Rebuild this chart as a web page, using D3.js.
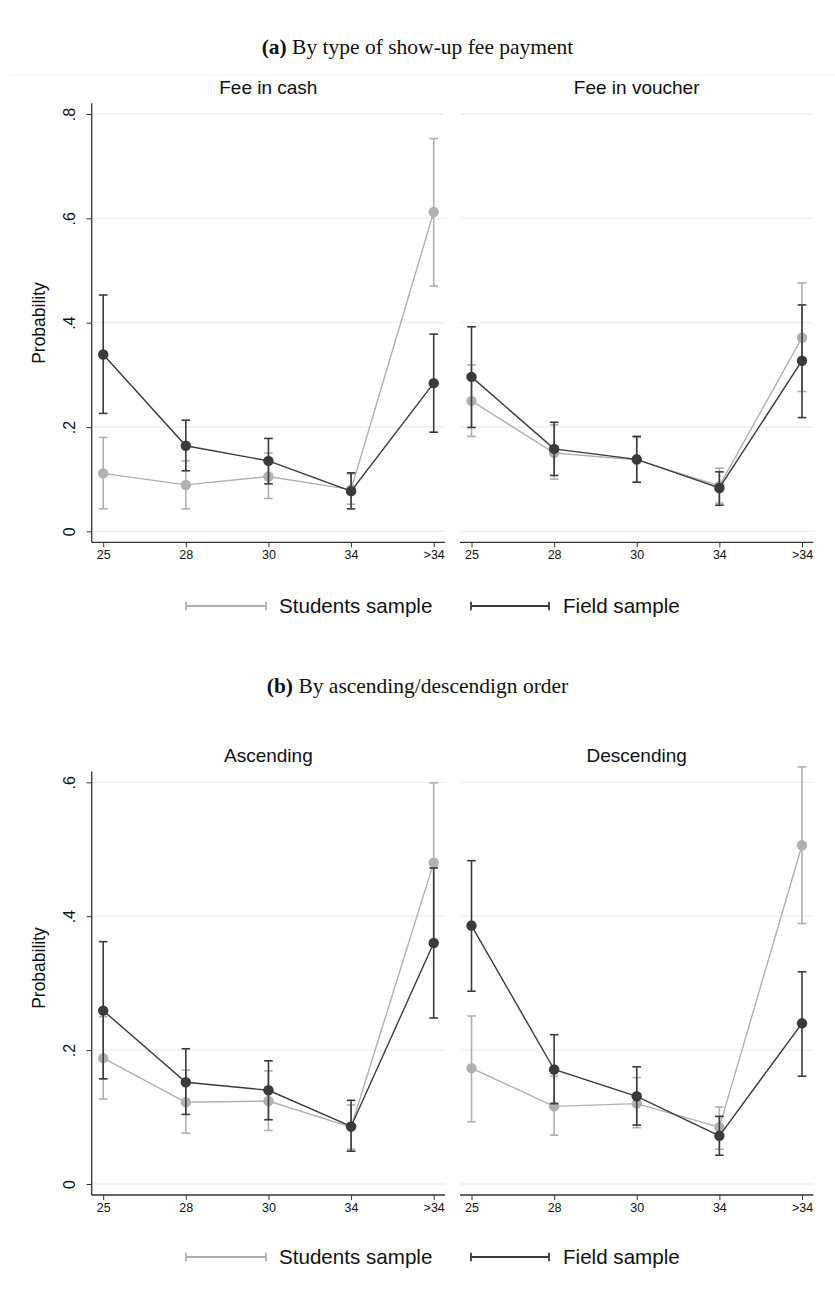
<!DOCTYPE html>
<html><head><meta charset="utf-8">
<script src="https://cdn.jsdelivr.net/npm/d3@7"></script>
<style>body{margin:0;background:#fff}svg{display:block}</style>
</head><body>
<script>
// ---------------- DATA ----------------
const categories = ["25","28","30","34",">34"];
const yTicksA = [0,0.2,0.4,0.6,0.8];
const yTicksB = [0,0.2,0.4,0.6];
const tickLabel = v => v===0 ? "0" : String(v).replace(/^0/,"");
const seriesNames = ["Students sample","Field sample"];

// Panel (a) Fee in cash
const cashStudents    = [0.111,0.089,0.105,0.080,0.612];
const cashStudentsLo  = [0.043,0.043,0.063,0.052,0.470];
const cashStudentsHi  = [0.180,0.135,0.150,0.110,0.753];
const cashField       = [0.339,0.164,0.135,0.077,0.284];
const cashFieldLo     = [0.226,0.116,0.091,0.043,0.190];
const cashFieldHi     = [0.453,0.213,0.178,0.112,0.378];
// Panel (a) Fee in voucher
const vouchStudents   = [0.250,0.150,0.137,0.087,0.371];
const vouchStudentsLo = [0.182,0.100,0.094,0.054,0.268];
const vouchStudentsHi = [0.319,0.204,0.180,0.121,0.476];
const vouchField      = [0.296,0.158,0.138,0.083,0.327];
const vouchFieldLo    = [0.199,0.107,0.094,0.050,0.218];
const vouchFieldHi    = [0.392,0.209,0.182,0.114,0.434];
// Panel (b) Ascending
const ascStudents     = [0.188,0.122,0.124,0.085,0.480];
const ascStudentsLo   = [0.127,0.076,0.080,0.052,0.362];
const ascStudentsHi   = [0.250,0.170,0.169,0.118,0.599];
const ascField        = [0.259,0.152,0.140,0.086,0.360];
const ascFieldLo      = [0.157,0.104,0.096,0.049,0.248];
const ascFieldHi      = [0.362,0.202,0.184,0.125,0.472];
// Panel (b) Descending
const descStudents    = [0.173,0.116,0.120,0.085,0.506];
const descStudentsLo  = [0.093,0.073,0.084,0.052,0.389];
const descStudentsHi  = [0.251,0.161,0.159,0.115,0.623];
const descField       = [0.386,0.171,0.131,0.072,0.240];
const descFieldLo     = [0.288,0.120,0.088,0.043,0.161];
const descFieldHi     = [0.483,0.223,0.175,0.101,0.317];

// ---------------- STYLE ----------------
const W = 835, H = 1302;
const LIGHT = "#b0b0b0", DARK = "#3a3a3a";
const GRID = "#e9f0f2", AXIS = "#333";
const SANS = "'Liberation Sans', Arial, sans-serif";
const SERIF = "'Liberation Serif', 'DejaVu Serif', serif";

const svg = d3.select("body").append("svg").attr("width",W).attr("height",H);

// faint separator line below title (a)
svg.append("line").attr("x1",10).attr("x2",835).attr("y1",75).attr("y2",75)
  .attr("stroke","#eef2f4").attr("stroke-width",1.2);

function title(y, bold, rest){
  const t = svg.append("text").attr("x",W/2).attr("y",y).attr("text-anchor","middle")
    .attr("font-family",SERIF).attr("font-size",21.5).attr("fill","#111");
  t.append("tspan").attr("font-weight","bold").text(bold);
  t.append("tspan").text(" " + rest);
}

function panel(cfg){
  const {x0,x1,y0px,yTopPx,ticks,yMax,showY,name,stud,studLo,studHi,fld,fldLo,fldHi} = cfg;
  const g = svg.append("g");
  const x = d3.scalePoint().domain(categories).range([x0+11.5, x1-11.3]);
  const y = d3.scaleLinear().domain([0,yMax]).range([y0px, yTopPx]);
  // gridlines
  g.selectAll(".grid").data(ticks).join("line")
    .attr("x1",x0+1).attr("x2",x1).attr("y1",d=>y(d)).attr("y2",d=>y(d))
    .attr("stroke",GRID).attr("stroke-width",1.3);
  // x axis
  const xAxisY = y0px + 11;
  const xa = g.append("g").attr("transform",`translate(0,${xAxisY})`)
    .call(d3.axisBottom(x).tickSize(5).tickPadding(3));
  xa.select(".domain").attr("d",`M${x0},0H${x1}`).attr("stroke",AXIS).attr("stroke-width",1.3);
  xa.selectAll(".tick line").attr("stroke",AXIS);
  xa.selectAll(".tick text").attr("font-family",SANS).attr("font-size",12.5).attr("fill","#111");
  // y axis
  if(showY){
    const ya = g.append("g").attr("transform",`translate(${x0},0)`)
      .call(d3.axisLeft(y).tickValues(ticks).tickFormat(tickLabel).tickSize(5).tickPadding(0));
    ya.select(".domain").attr("d",`M0,${xAxisY}V${yTopPx-10.7}`).attr("stroke",AXIS).attr("stroke-width",1.3);
    ya.selectAll(".tick line").attr("stroke",AXIS);
    ya.selectAll(".tick text").attr("font-family",SANS).attr("font-size",16).attr("fill","#111")
      .attr("text-anchor","middle").attr("x",0)
      .attr("transform","translate(-22,0) rotate(-90)").attr("y",0).attr("dy","0.35em");
  }
  // panel title
  g.append("text").attr("x",(x0+x1)/2).attr("y",yTopPx-20).attr("text-anchor","middle")
    .attr("font-family",SANS).attr("font-size",19).attr("fill","#111").text(name);

  function series(vals,lo,hi,color,lw){
    const d = categories.map((c,i)=>({c,v:vals[i],lo:lo[i],hi:hi[i]}));
    const cap = 4.3;
    const eb = g.append("g");
    eb.selectAll("line.v").data(d).join("line")
      .attr("x1",e=>x(e.c)).attr("x2",e=>x(e.c)).attr("y1",e=>y(e.lo)).attr("y2",e=>y(e.hi))
      .attr("stroke",color).attr("stroke-width",lw);
    eb.selectAll("line.t").data(d).join("line")
      .attr("x1",e=>x(e.c)-cap).attr("x2",e=>x(e.c)+cap).attr("y1",e=>y(e.hi)).attr("y2",e=>y(e.hi))
      .attr("stroke",color).attr("stroke-width",lw);
    eb.selectAll("line.b").data(d).join("line")
      .attr("x1",e=>x(e.c)-cap).attr("x2",e=>x(e.c)+cap).attr("y1",e=>y(e.lo)).attr("y2",e=>y(e.lo))
      .attr("stroke",color).attr("stroke-width",lw);
    g.append("path").datum(d)
      .attr("d",d3.line().x(e=>x(e.c)).y(e=>y(e.v)))
      .attr("fill","none").attr("stroke",color).attr("stroke-width",1.4);
    g.append("g").selectAll("circle").data(d).join("circle")
      .attr("cx",e=>x(e.c)).attr("cy",e=>y(e.v)).attr("r",5.2).attr("fill",color);
  }
  series(stud,studLo,studHi,LIGHT,1.6);
  series(fld,fldLo,fldHi,DARK,1.6);
}

function legend(y){
  const items = [{n:seriesNames[0],c:LIGHT,x1:186,x2:266,tx:279},
                 {n:seriesNames[1],c:DARK,x1:471,x2:549,tx:563}];
  items.forEach(it=>{
    const g = svg.append("g");
    g.append("line").attr("x1",it.x1).attr("x2",it.x2).attr("y1",y).attr("y2",y).attr("stroke",it.c).attr("stroke-width",1.8);
    [it.x1,it.x2].forEach(xx=>g.append("line").attr("x1",xx).attr("x2",xx).attr("y1",y-4.3).attr("y2",y+4.3).attr("stroke",it.c).attr("stroke-width",1.8));
    g.append("text").attr("x",it.tx).attr("y",y).attr("dy","0.36em").attr("font-family",SANS)
      .attr("font-size",20.6).attr("fill","#111").text(it.n);
  });
}

function yTitle(cy){
  svg.append("text").attr("transform",`translate(39,${cy}) rotate(-90)`).attr("text-anchor","middle")
    .attr("dy","0.35em").attr("font-family",SANS).attr("font-size",17.5).attr("fill","#111").text("Probability");
}

// ---- (a)
title(54,"(a)","By type of show-up fee payment");
panel({x0:91.7,x1:445,y0px:531.3,yTopPx:114,ticks:yTicksA,yMax:0.8,showY:true,name:"Fee in cash",
  stud:cashStudents,studLo:cashStudentsLo,studHi:cashStudentsHi,fld:cashField,fldLo:cashFieldLo,fldHi:cashFieldHi});
panel({x0:460,x1:813.3,y0px:531.3,yTopPx:114,ticks:yTicksA,yMax:0.8,showY:false,name:"Fee in voucher",
  stud:vouchStudents,studLo:vouchStudentsLo,studHi:vouchStudentsHi,fld:vouchField,fldLo:vouchFieldLo,fldHi:vouchFieldHi});
yTitle(323);
legend(606);

// ---- (b)
title(693,"(b)","By ascending/descendign order");
panel({x0:91.7,x1:445,y0px:1184,yTopPx:782.3,ticks:yTicksB,yMax:0.6,showY:true,name:"Ascending",
  stud:ascStudents,studLo:ascStudentsLo,studHi:ascStudentsHi,fld:ascField,fldLo:ascFieldLo,fldHi:ascFieldHi});
panel({x0:460,x1:813.3,y0px:1184,yTopPx:782.3,ticks:yTicksB,yMax:0.6,showY:false,name:"Descending",
  stud:descStudents,studLo:descStudentsLo,studHi:descStudentsHi,fld:descField,fldLo:descFieldLo,fldHi:descFieldHi});
yTitle(968);
legend(1257);
</script>
</body></html>
